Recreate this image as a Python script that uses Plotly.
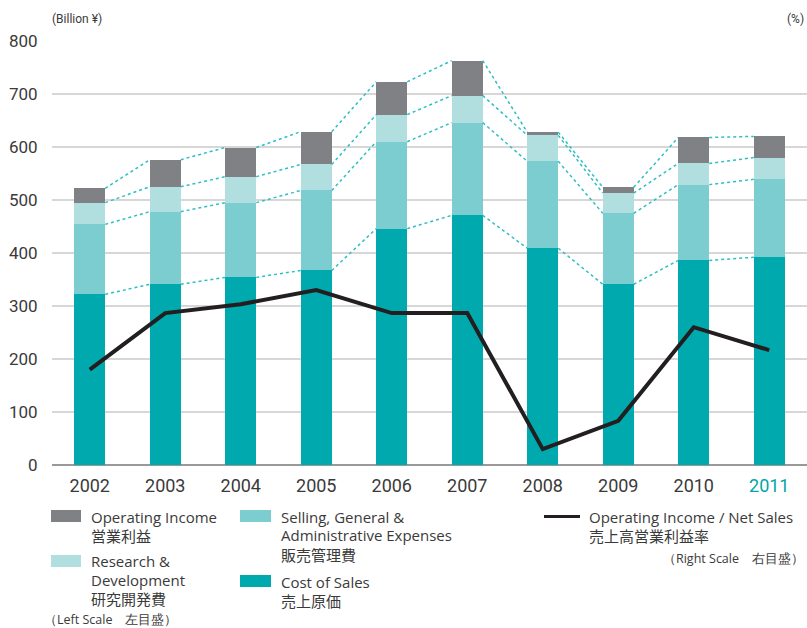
import plotly.graph_objects as go

years = ["2002", "2003", "2004", "2005", "2006", "2007", "2008", "2009", "2010", "2011"]
cost_of_sales = [322, 341, 354, 367, 446, 471, 409, 341, 386, 392]
sga = [132, 137, 141, 151, 164, 175, 164, 134, 143, 147]
rnd = [41, 47, 49, 49, 51, 51, 49, 38, 40, 41]
op_income = [27, 51, 55, 62, 62, 66, 6, 11, 49, 40]
op_margin = [5.4, 8.6, 9.1, 9.9, 8.6, 8.6, 0.9, 2.5, 7.8, 6.5]

C_COST = "#00a9ad"
C_SGA = "#7bcdd0"
C_RND = "#b1dfe0"
C_OI = "#808184"
C_DOT = "#2ebfc3"
TXT = "#3a3a3a"

EN = "Open Sans, Liberation Sans, Arial, sans-serif"
NUM = "Roboto, Liberation Sans, sans-serif"
JP = "Noto Sans CJK JP, sans-serif"

W, H = 807, 628
ML, MR, MT, MB = 52, 0, 41, 163
PW, PH = W - ML - MR, H - MT - MB
BAR_W = 0.41

x = list(range(len(years)))
fig = go.Figure()

series = [
    ("Cost of Sales", cost_of_sales, C_COST),
    ("SGA", sga, C_SGA),
    ("R&D", rnd, C_RND),
    ("Operating Income", op_income, C_OI),
]
for name, vals, col in series:
    fig.add_trace(go.Bar(x=x, y=vals, name=name, marker=dict(color=col, line=dict(width=0)),
                         width=BAR_W, showlegend=False, hoverinfo="skip"))

# dotted connectors between segment tops
cum = [0] * len(years)
for name, vals, col in series:
    cum = [c + v for c, v in zip(cum, vals)]
    xs, ys = [], []
    for i in range(len(years) - 1):
        xs += [x[i] + BAR_W / 2, x[i + 1] - BAR_W / 2, None]
        ys += [cum[i], cum[i + 1], None]
    fig.add_trace(go.Scatter(x=xs, y=ys, mode="lines", line=dict(color=C_DOT, width=1.5, dash="dot"),
                             showlegend=False, hoverinfo="skip"))

fig.add_trace(go.Scatter(x=x, y=op_margin, yaxis="y2", mode="lines",
                         line=dict(color="#231f20", width=4), showlegend=False, hoverinfo="skip"))

ticktext = [y if y != "2011" else '<span style="color:#00a5a9">2011</span>' for y in years]

fig.update_layout(
    width=W, height=H, margin=dict(l=ML, r=MR, t=MT, b=MB),
    paper_bgcolor="white", plot_bgcolor="white",
    barmode="stack", bargap=0,
    xaxis=dict(range=[-0.5, 9.5], tickvals=x, ticktext=ticktext, showgrid=False, zeroline=False,
               showline=False, ticks="outside", ticklen=4, tickcolor="rgba(0,0,0,0)",
               tickfont=dict(family=NUM, size=18, color=TXT)),
    yaxis=dict(range=[0, 800], dtick=100, showgrid=True, gridcolor="#d7d7d7", gridwidth=2,
               zeroline=True, zerolinecolor="#999999", zerolinewidth=2,
               ticks="outside", ticklen=10, tickcolor="rgba(0,0,0,0)",
               tickfont=dict(family=NUM, size=17, color=TXT)),
    yaxis2=dict(range=[0, 24], overlaying="y", side="right", showticklabels=False,
                showgrid=False, zeroline=False),
)

def px(p):
    return (p - ML) / PW

def py(p):
    return (MT + PH - p) / PH

def note(text, x0, y0, size=15, xanchor="left", family=EN, color=TXT):
    fig.add_annotation(text=text, x=px(x0), y=py(y0), xref="paper", yref="paper",
                       xanchor=xanchor, yanchor="middle", showarrow=False, align=xanchor,
                       font=dict(family=family, size=size, color=color))

note("(Billion ¥)", 50, 19, size=12, family=NUM)
note("(%)", 806, 19, size=12, xanchor="right", family=NUM)

def swatch(x0, y0, x1, y1, col):
    fig.add_shape(type="rect", xref="paper", yref="paper", x0=px(x0), x1=px(x1), y0=py(y0), y1=py(y1),
                  fillcolor=col, line=dict(width=0))

swatch(51, 510, 81, 522, C_OI)
note("Operating Income", 89, 516.5)
note("営業利益", 89, 535.5, family=JP)

swatch(51, 555, 81, 567, C_RND)
note("Research &", 89, 561)
note("Development", 89, 579.5)
note("研究開発費", 89, 598, family=JP)
note("（Left Scale　左目盛）", 42, 619.5, size=12.5, family=EN)

swatch(240, 510, 271, 522, C_SGA)
note("Selling, General &", 279, 516.5)
note("Administrative Expenses", 279, 535)
note("販売管理費", 279, 554, family=JP)

swatch(240, 575, 271, 587, C_COST)
note("Cost of Sales", 279, 581.5)
note("売上原価", 279, 600, family=JP)

fig.add_shape(type="line", xref="paper", yref="paper", x0=px(544), x1=px(580), y0=py(516.5), y1=py(516.5),
              line=dict(color="#231f20", width=3))
note("Operating Income / Net Sales", 587, 516.5)
note("売上高営業利益率", 587, 535.5, family=JP)
note("（Right Scale　右目盛）", 806, 558, size=12.5, xanchor="right")

fig.write_html("out.html", config={"displayModeBar": False},
               post_script="document.body.style.margin='0';document.body.style.padding='0';")
